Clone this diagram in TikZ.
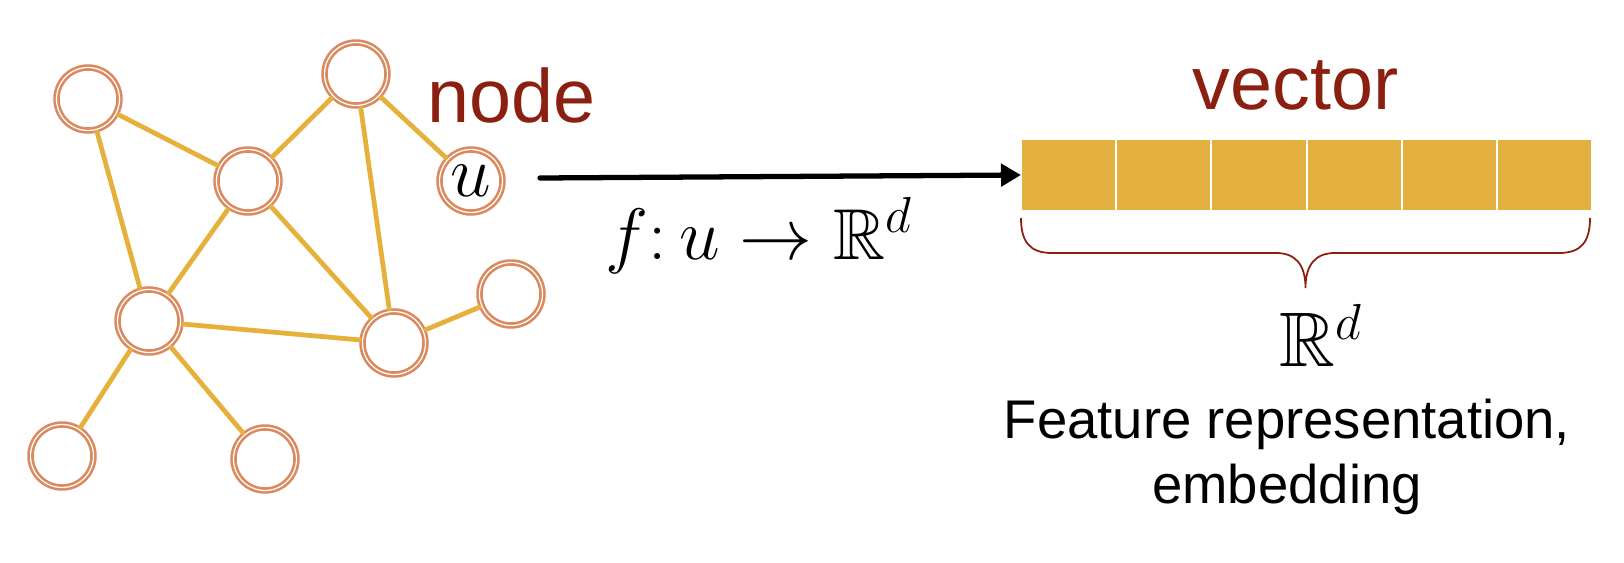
\documentclass[tikz,border=0pt]{standalone}
\usepackage{amssymb}
\usepackage{fontspec}
\setmainfont{Liberation Sans}
\definecolor{ringorange}{RGB}{217,138,95}
\definecolor{edgegold}{RGB}{230,177,58}
\definecolor{cellgold}{RGB}{227,176,63}
\definecolor{darkred}{RGB}{139,32,17}
\usetikzlibrary{arrows.meta,positioning}
\tikzset{
  vertex/.style={circle,draw=ringorange,line width=0.75pt,
                 double=white,double distance=0.35pt,
                 minimum size=6.3mm,inner sep=0pt,
                 font=\fontsize{21}{25}\selectfont},
  edge/.style={edgegold,line width=1.35pt},
  cell/.style={rectangle,fill=cellgold,draw=white,line width=0.6pt,
               minimum width=9.52mm,minimum height=7.2mm,
               inner sep=0pt,outer sep=0pt},
  maparrow/.style={-{Triangle[length=2mm,width=2.2mm]},line width=1.5pt,
                   line cap=round},
  brace/.style={darkred,line width=0.5pt},
  title/.style={darkred,inner sep=0pt,font=\fontsize{21.5}{26}\selectfont},
}
\begin{document}
\begin{tikzpicture}
  \useasboundingbox (0,0) rectangle (16.24,5.62);

  % graph
  \node[vertex] (v1) at (0.88,4.63) {};
  \node[vertex] (v2) at (3.56,4.88) {};
  \node[vertex] (v3) at (2.48,3.81) {};
  \node[vertex] (u)  at (4.71,3.81) {$u$};
  \node[vertex] (v4) at (1.49,2.41) {};
  \node[vertex] (v5) at (3.94,2.19) {};
  \node[vertex] (v6) at (5.11,2.68) {};
  \node[vertex] (v7) at (0.62,1.06) {};
  \node[vertex] (v8) at (2.65,1.03) {};

  \foreach \a/\b in {v1/v3,v1/v4,v3/v2,v2/u,v2/v5,v3/v4,v3/v5,v4/v5,
                     v5/v6,v4/v7,v4/v8}
    \draw[edge] (\a) -- (\b);

  \node[title,anchor=base west] (nodelbl) at (4.27,4.40) {node};

  % embedding vector
  \node[cell,anchor=west] (c1) at (10.21,3.87) {};
  \foreach \i [count=\j] in {2,...,6}
    \node[cell,right=0pt of c\j] (c\i) {};

  \node[title,anchor=base west] (veclbl) at (11.92,4.53) {vector};

  \coordinate (start) at (5.40,3.84);
  \draw[maparrow] (start) -- (c1.west);

  \node[anchor=base west,inner sep=0pt,font=\fontsize{20.5}{24}\selectfont] (map)
      at (6.05,3.03) {$f\colon u \to \mathbb{R}^d$};

  % brace under the vector
  \draw[brace] (10.21,3.44) .. controls (10.21,3.2) and (10.3,3.09) .. (10.52,3.09)
    -- (12.76,3.09) .. controls (12.95,3.09) and (13.055,2.98) .. (13.055,2.74)
    .. controls (13.055,2.98) and (13.16,3.09) .. (13.35,3.09)
    -- (15.59,3.09) .. controls (15.81,3.09) and (15.9,3.2) .. (15.9,3.44);

  \node[anchor=base,font=\fontsize{22}{26}\selectfont] (space) at (13.21,1.96)
      {$\mathbb{R}^d$};
  \node[align=center,font=\fontsize{15.5}{18.5}\selectfont,
        below=0.08cm of space,xshift=-3.4mm]
      (desc) {Feature representation,\\embedding};
\end{tikzpicture}
\end{document}
